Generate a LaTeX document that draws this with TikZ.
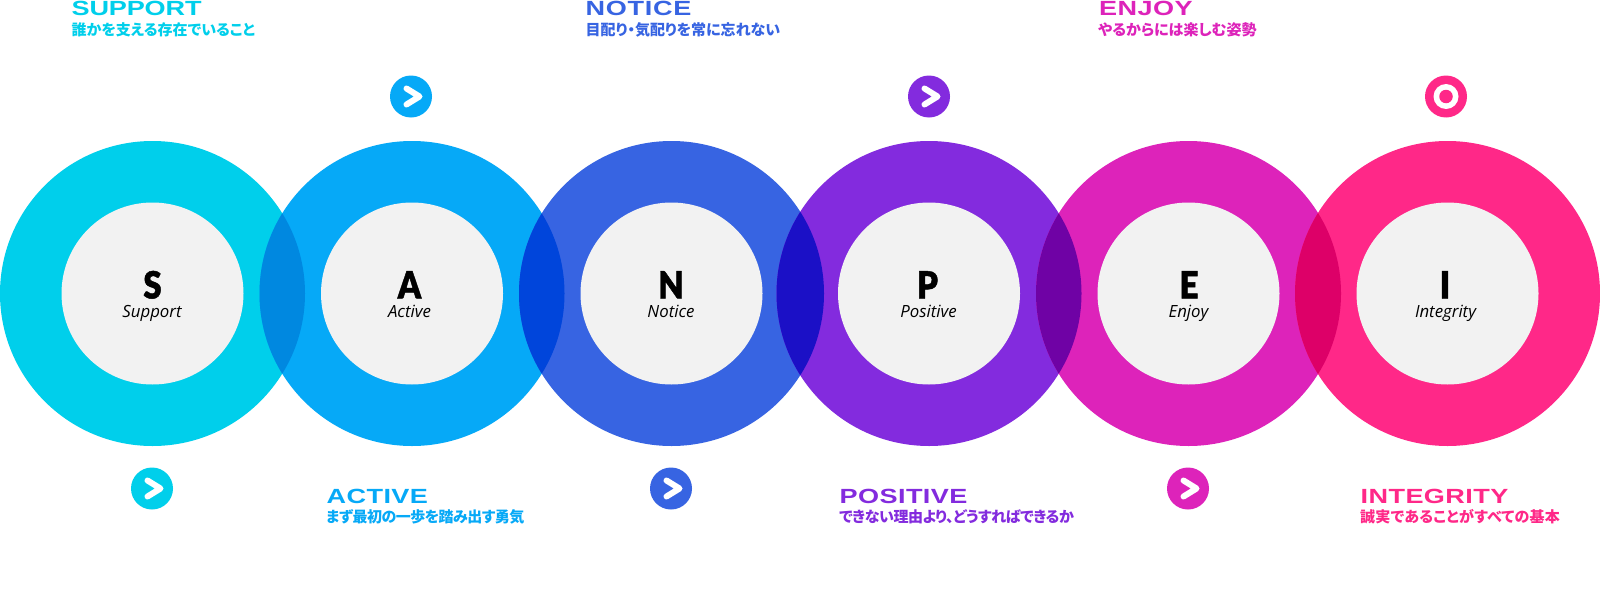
\documentclass[tikz,border=0pt]{standalone}
\usepackage{fontspec}
\setmainfont{Liberation Sans}
\newfontfamily\headfont[FakeStretch=1.32,LetterSpace=2,BoldFont={Liberation Sans Bold}]{Liberation Sans}
\newfontfamily\cjkfont[RawFeature={+palt}]{Noto Sans CJK JP}
\newfontfamily\letterfont[FakeStretch=0.88,FakeBold=1.2]{Lato Black}
\newfontfamily\wordfont{Open Sans}
\definecolor{cS}{HTML}{00CFEB}
\definecolor{cA}{HTML}{06A9F7}
\definecolor{cN}{HTML}{3764E2}
\definecolor{cP}{HTML}{832BDE}
\definecolor{cE}{HTML}{DD23BA}
\definecolor{cI}{HTML}{FF2888}
\definecolor{lSA}{HTML}{0088E0}
\definecolor{lAN}{HTML}{0045DB}
\definecolor{lNP}{HTML}{1B10C6}
\definecolor{lPE}{HTML}{6F02A5}
\definecolor{lEI}{HTML}{DD0068}
\definecolor{core}{HTML}{F2F2F2}
\tikzset{
  outerdisc/.style={circle,inner sep=0pt,minimum size=305pt},
  innerdisc/.style={circle,inner sep=0pt,minimum size=182pt,fill=core},
  badge/.style={circle,inner sep=0pt,minimum size=42pt},
  chevron/.style={draw=white,line width=6pt,line cap=round,line join=round},
  bigletter/.style={anchor=base,inner sep=0pt,font=\letterfont\fontsize{37.5}{37.5}\selectfont},
  smallword/.style={anchor=base,inner sep=0pt,font=\wordfont\itshape\fontsize{16.8}{16.8}\selectfont},
  headtext/.style={anchor=base west,inner sep=0pt,font=\headfont\bfseries\fontsize{20.5}{20.5}\selectfont},
  subtext/.style={anchor=base west,inner sep=0pt,font=\cjkfont\bfseries\fontsize{15}{15}\selectfont},
}
\newcommand{\lens}[3]{%
  \begin{scope}
    \clip (#1) circle[radius=152.5pt];
    \fill[#3] (#2) circle[radius=152.5pt];
  \end{scope}}
\newcommand{\arrowbadge}[4]{%
  \node[badge,fill=#4] (#1) at (#2,#3) {};
  \draw[chevron] ([shift={(-4.5pt,-8pt)}]#1.center) -- ([shift={(8.5pt,0pt)}]#1.center) -- ([shift={(-4.5pt,8pt)}]#1.center);}
\newcommand{\centre}[5]{%
  \node[innerdisc] (i#1) at (o#1) {};
  \node[bigletter] (l#1) at (#2,298.5) {#4};
  \node[smallword] (w#1) at (#3,317.5) {#5};}
\begin{document}
\begin{tikzpicture}[x=1pt,y=-1pt]
\useasboundingbox (0,0) rectangle (1600,605);
\fill[white] (0,0) rectangle (1600,605);
% outer discs
\node[outerdisc,fill=cS] (oS) at (152.5,293.5) {};
\node[outerdisc,fill=cA] (oA) at (412,293.5) {};
\node[outerdisc,fill=cN] (oN) at (671.5,293.5) {};
\node[outerdisc,fill=cP] (oP) at (929,293.5) {};
\node[outerdisc,fill=cE] (oE) at (1188.5,293.5) {};
\node[outerdisc,fill=cI] (oI) at (1447.5,293.5) {};
% overlaps
\lens{oS}{oA}{lSA}
\lens{oA}{oN}{lAN}
\lens{oN}{oP}{lNP}
\lens{oP}{oE}{lPE}
\lens{oE}{oI}{lEI}
% centres
\centre{S}{152.5}{152}{S}{Support}
\centre{A}{409.5}{409.5}{A}{Active}
\centre{N}{671}{671}{N}{Notice}
\centre{P}{927.5}{928.5}{P}{Positive}
\centre{E}{1189}{1188.5}{E}{Enjoy}
\centre{I}{1445}{1445.5}{I}{Integrity}
% badges
\arrowbadge{bS}{152}{488.5}{cS}
\arrowbadge{bA}{411}{96.5}{cA}
\arrowbadge{bN}{671}{488.5}{cN}
\arrowbadge{bP}{929}{96.5}{cP}
\arrowbadge{bE}{1188}{488.5}{cE}
\node[badge,fill=cI] (bI) at (1446,96.5) {};
\node[circle,inner sep=0pt,minimum size=25pt,fill=white] (bIr) at (bI) {};
\node[circle,inner sep=0pt,minimum size=13.5pt,fill=cI] (bIc) at (bI) {};
% headings
\node[headtext,text=cS] (hS) at (71.5,15) {\addfontfeature{LetterSpace=-0.8}SUPPORT};
\node[subtext,text=cS] (tS) at (71.5,35) {誰かを支える存在でいること};
\node[headtext,text=cN] (hN) at (585.5,15) {\addfontfeature{LetterSpace=3.5}NOTICE};
\node[subtext,text=cN] (tN) at (585.5,35) {目配り・気配りを常に忘れない};
\node[headtext,text=cE] (hE) at (1099,15) {ENJOY};
\node[subtext,text=cE] (tE) at (1098,35) {やるからには楽しむ姿勢};
\node[headtext,text=cA] (hA) at (326.5,503) {ACTIVE};
\node[subtext,text=cA] (tA) at (326,522.5) {\addfontfeature{LetterSpace=-3.4}まず最初の一歩を踏み出す勇気};
\node[headtext,text=cP] (hP) at (839.5,503) {POSITIVE};
\node[subtext,text=cP] (tP) at (839,522.5) {\addfontfeature{LetterSpace=-2.9}できない理由より、どうすればできるか};
\node[headtext,text=cI] (hI) at (1360.5,503) {INTEGRITY};
\node[subtext,text=cI] (tI) at (1360,522.5) {\addfontfeature{LetterSpace=1.6}誠実であることがすべての基本};
\end{tikzpicture}
\end{document}
